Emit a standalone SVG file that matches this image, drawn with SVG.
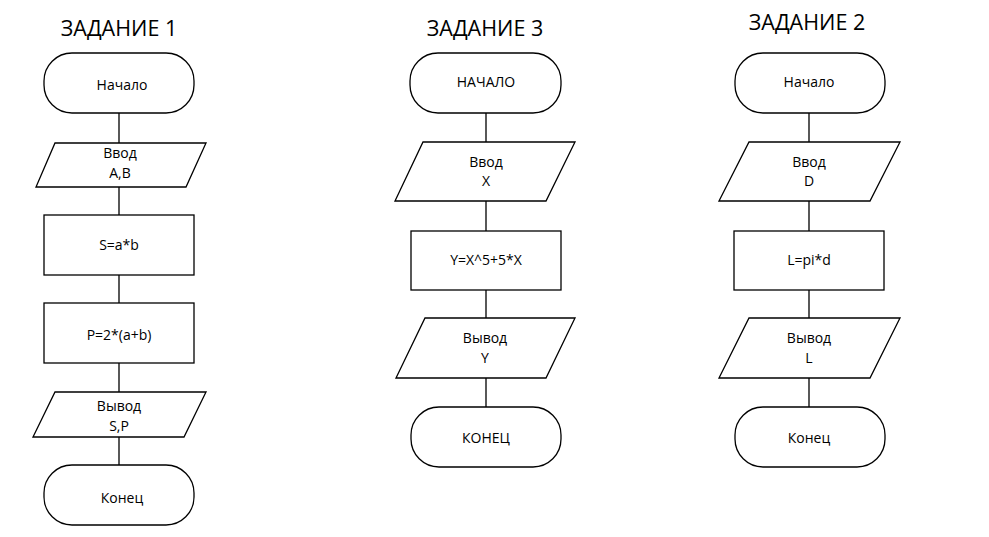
<svg xmlns="http://www.w3.org/2000/svg" width="989" height="537" viewBox="0 0 989 537">
<style>
.s{fill:#fff;stroke:#000;stroke-width:1.3}
.c{stroke:#000;stroke-width:1.3;fill:none}
text{font-family:"Open Sans","Noto Sans","Liberation Sans",sans-serif;fill:#000;text-anchor:middle}
.t{font-size:14px}
.h{font-size:21.5px;font-weight:500}
</style>
<rect width="989" height="537" fill="#fff"/>
<g id="connectors">
<path class="c" d="M119 113V143M119 187V215M119 275V303M119 363V392M119 437V465"/>
<path class="c" d="M486 113V142M486 201V231M486 290V318M486 378V407"/>
<path class="c" d="M809 113V142M809 201V231M809 290V318M809 378V407"/>
</g>
<g id="title1"><text class="h" x="119" y="36">ЗАДАНИЕ 1</text></g>
<g id="title3"><text class="h" x="485" y="36">ЗАДАНИЕ 3</text></g>
<g id="title2"><text class="h" x="807" y="30">ЗАДАНИЕ 2</text></g>

<g id="n1_start"><rect class="s" x="44" y="53" width="150" height="60" rx="28"/><text class="t" x="122" y="90">Начало</text></g>
<g id="n1_input"><polygon class="s" points="55,143 206,143 186,187 36,187"/><text class="t" x="120" y="158">Ввод</text><text class="t" x="120" y="178">A,B</text></g>
<g id="n1_s"><rect class="s" x="44" y="215" width="150" height="60"/><text class="t" x="119" y="250">S=a*b</text></g>
<g id="n1_p"><rect class="s" x="44" y="303" width="150" height="60"/><text class="t" x="119" y="340">P=2*(a+b)</text></g>
<g id="n1_output"><polygon class="s" points="55,392 206,392 184,437 33,437"/><text class="t" x="119" y="411">Вывод</text><text class="t" x="119" y="431">S,P</text></g>
<g id="n1_end"><rect class="s" x="44" y="465" width="150" height="60" rx="28"/><text class="t" x="122" y="503">Конец</text></g>

<g id="n3_start"><rect class="s" x="410" y="53" width="151" height="60" rx="28"/><text class="t" x="486" y="87">НАЧАЛО</text></g>
<g id="n3_input"><polygon class="s" points="423,142 575,142 546,201 395,201"/><text class="t" x="486" y="167">Ввод</text><text class="t" x="486" y="186">X</text></g>
<g id="n3_calc"><rect class="s" x="411" y="231" width="150" height="59"/><text class="t" x="486" y="265">Y=X^5+5*X</text></g>
<g id="n3_output"><polygon class="s" points="425,318 575,318 546,378 396,378"/><text class="t" x="485" y="343">Вывод</text><text class="t" x="485" y="363">Y</text></g>
<g id="n3_end"><rect class="s" x="411" y="407" width="150" height="60" rx="28"/><text class="t" x="486" y="443">КОНЕЦ</text></g>

<g id="n2_start"><rect class="s" x="735" y="53" width="150" height="60" rx="28"/><text class="t" x="809" y="87">Начало</text></g>
<g id="n2_input"><polygon class="s" points="749,142 900,142 870,201 719,201"/><text class="t" x="809" y="167">Ввод</text><text class="t" x="809" y="186">D</text></g>
<g id="n2_calc"><rect class="s" x="734" y="231" width="150" height="59"/><text class="t" x="809" y="265">L=pi*d</text></g>
<g id="n2_output"><polygon class="s" points="749,318 900,318 870,378 719,378"/><text class="t" x="809" y="343">Вывод</text><text class="t" x="809" y="363">L</text></g>
<g id="n2_end"><rect class="s" x="735" y="407" width="150" height="60" rx="28"/><text class="t" x="809" y="443">Конец</text></g>
</svg>
